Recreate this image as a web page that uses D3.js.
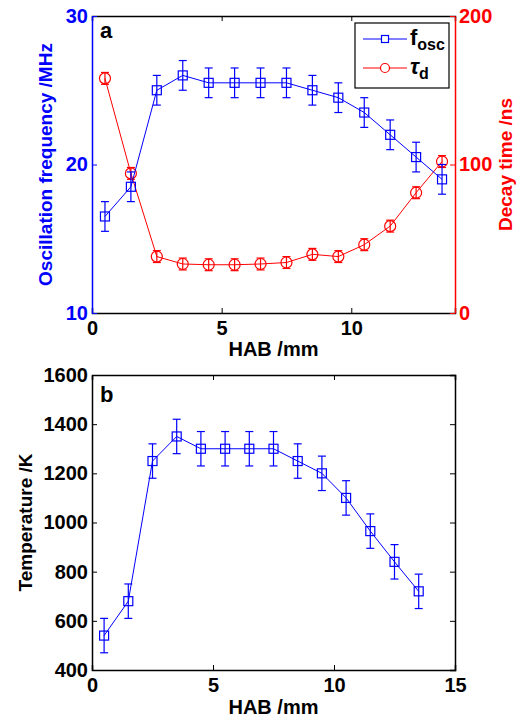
<!DOCTYPE html>
<html>
<head>
<meta charset="utf-8">
<script src="https://cdn.jsdelivr.net/npm/d3@7"></script>
<style>
  body { margin: 0; background: #fff; }
  text { font-family: "Liberation Sans", Arial, sans-serif; font-weight: bold; }
</style>
</head>
<body>
<svg id="chart" width="518" height="722"></svg>
<script>
(function (d3) {
    'use strict';

    // HAB positions (mm)
    var hab = [0.5, 1.5, 2.5, 3.5, 4.5, 5.5, 6.5, 7.5, 8.5, 9.5, 10.5, 11.5, 12.5, 13.5];

    // panel a
    var fosc = [16.5, 18.5, 25, 26, 25.5, 25.5, 25.5, 25.5, 25, 24.5, 23.5, 22, 20.5, 19];
    var foscErr = [1, 1, 1, 1, 1, 1, 1, 1, 1, 1, 1, 1, 1, 1];
    var decay = [158, 94, 38, 33, 32.5, 32.5, 33, 34, 39.5, 38, 46, 58.5, 81, 102];
    var decayErr = [4, 4, 4, 4, 4, 4, 4, 4, 4, 4, 4, 4, 4, 4];

    // panel b
    var temp = [540, 680, 1250, 1350, 1300, 1300, 1300, 1300, 1250, 1200, 1100, 965, 840, 720];
    var tempErr = [70, 70, 70, 70, 70, 70, 70, 70, 70, 70, 70, 70, 70, 70];

    var freqTicks = [10, 20, 30],
        decayTicks = [0, 100, 200],
        habTicksA = [0, 5, 10],
        habTicksB = [0, 5, 10, 15],
        tempTicks = [400, 600, 800, 1000, 1200, 1400, 1600];

    var BLUE = '#0000ff', RED = '#ff0000';
    var fmt = d3.format('d');

    var svg = d3.select('#chart');

    var left = 92, right = 455;

    function rows(y, e) {
        return hab.map(function (x, i) { return { x: x, y: y[i], e: e[i] }; });
    }

    function styleAxis(g, color) {
        g.select('.domain').attr('stroke', color).attr('stroke-width', 1.5);
        g.selectAll('.tick line').attr('stroke', color);
        g.selectAll('.tick text').attr('fill', color).style('font-size', '20px');
    }

    function series(g, x, y, data, color, shape) {
        g.append('path')
            .datum(data)
            .attr('fill', 'none')
            .attr('stroke', color)
            .attr('stroke-width', 1)
            .attr('d', d3.line().x(function (d) { return x(d.x); }).y(function (d) { return y(d.y); }));

        var eb = g.selectAll('.eb').data(data).enter().append('g');
        eb.append('line')
            .attr('x1', function (d) { return x(d.x); })
            .attr('x2', function (d) { return x(d.x); })
            .attr('y1', function (d) { return y(d.y - d.e); })
            .attr('y2', function (d) { return y(d.y + d.e); })
            .attr('stroke', color).attr('stroke-width', 1.2);
        [-1, 1].forEach(function (s) {
            eb.append('line')
                .attr('x1', function (d) { return x(d.x) - 4; })
                .attr('x2', function (d) { return x(d.x) + 4; })
                .attr('y1', function (d) { return y(d.y + s * d.e); })
                .attr('y2', function (d) { return y(d.y + s * d.e); })
                .attr('stroke', color).attr('stroke-width', 1.2);
        });

        if (shape === 'square') {
            g.selectAll('.mk').data(data).enter().append('rect')
                .attr('x', function (d) { return x(d.x) - 4.5; })
                .attr('y', function (d) { return y(d.y) - 4.5; })
                .attr('width', 9).attr('height', 9)
                .attr('fill', 'none').attr('stroke', color).attr('stroke-width', 1.2);
        } else {
            g.selectAll('.mk').data(data).enter().append('circle')
                .attr('cx', function (d) { return x(d.x); })
                .attr('cy', function (d) { return y(d.y); })
                .attr('r', 5.5)
                .attr('fill', 'none').attr('stroke', color).attr('stroke-width', 1.2);
        }
    }

    // ---------- panel a ----------
    var topA = 16, botA = 313;
    var xA = d3.scaleLinear().domain([0, 14]).range([left, right]);
    var yF = d3.scaleLinear().domain([10, 30]).range([botA, topA]);
    var yD = d3.scaleLinear().domain([0, 200]).range([botA, topA]);

    var ga = svg.append('g');

    ga.append('g').attr('transform', 'translate(0,' + topA + ')')
        .call(d3.axisBottom(xA).tickValues(habTicksA).tickSize(5).tickFormat(''))
        .call(styleAxis, '#000');
    ga.append('g').attr('transform', 'translate(0,' + botA + ')')
        .call(d3.axisTop(xA).tickValues(habTicksA).tickSize(5).tickFormat(''))
        .call(styleAxis, '#000');
    ga.append('g').attr('transform', 'translate(0,' + botA + ')')
        .call(d3.axisBottom(xA).tickValues(habTicksA).tickSize(0).tickPadding(8).tickFormat(fmt))
        .call(styleAxis, '#000')
        .select('.domain').remove();
    ga.append('g').attr('transform', 'translate(' + left + ',0)')
        .call(d3.axisLeft(yF).tickValues(freqTicks).tickSizeInner(-5).tickSizeOuter(0).tickPadding(4).tickFormat(fmt))
        .call(styleAxis, BLUE);
    ga.append('g').attr('transform', 'translate(' + right + ',0)')
        .call(d3.axisRight(yD).tickValues(decayTicks).tickSizeInner(-5).tickSizeOuter(0).tickPadding(4).tickFormat(fmt))
        .call(styleAxis, RED);

    series(ga, xA, yD, rows(decay, decayErr), RED, 'circle');
    series(ga, xA, yF, rows(fosc, foscErr), BLUE, 'square');

    ga.append('text').attr('x', 100).attr('y', 38).style('font-size', '22px').text('a');

    ga.append('text')
        .attr('transform', 'translate(52,' + ((topA + botA) / 2) + ') rotate(-90)')
        .attr('text-anchor', 'middle').attr('fill', BLUE).style('font-size', '19px')
        .text('Oscillation frequency /MHz');
    ga.append('text')
        .attr('transform', 'translate(512,' + ((topA + botA) / 2) + ') rotate(-90)')
        .attr('text-anchor', 'middle').attr('fill', RED).style('font-size', '19px')
        .text('Decay time /ns');
    ga.append('text').attr('x', (left + right) / 2).attr('y', 356)
        .attr('text-anchor', 'middle').style('font-size', '20px').text('HAB /mm');

    // legend
    var lg = ga.append('g');
    lg.append('rect').attr('x', 355).attr('y', 23).attr('width', 94).attr('height', 65)
        .attr('fill', '#fff').attr('stroke', '#000').attr('stroke-width', 1.2);
    var legendItems = [
        { color: BLUE, shape: 'square', y: 39, name: 'f', sub: 'osc', italic: false },
        { color: RED, shape: 'circle', y: 68, name: 'τ', sub: 'd', italic: true }
    ];
    legendItems.forEach(function (it) {
        lg.append('line').attr('x1', 363).attr('x2', 407).attr('y1', it.y).attr('y2', it.y)
            .attr('stroke', it.color).attr('stroke-width', 1);
        if (it.shape === 'square') {
            lg.append('rect').attr('x', 381.5).attr('y', it.y - 3.5).attr('width', 7).attr('height', 7)
                .attr('fill', '#fff').attr('stroke', it.color).attr('stroke-width', 1.2);
        } else {
            lg.append('circle').attr('cx', 385).attr('cy', it.y).attr('r', 4.5)
                .attr('fill', '#fff').attr('stroke', it.color).attr('stroke-width', 1.2);
        }
        var t = lg.append('text').attr('x', 410).attr('y', it.y + 6).style('font-size', '22px');
        t.append('tspan').style('font-style', it.italic ? 'italic' : 'normal').text(it.name);
        t.append('tspan').attr('dy', 5).style('font-size', '16px').text(it.sub);
    });

    // ---------- panel b ----------
    var topB = 375, botB = 670;
    var xB = d3.scaleLinear().domain([0, 15]).range([left, right]);
    var yT = d3.scaleLinear().domain([400, 1600]).range([botB, topB]);

    var gb = svg.append('g');
    gb.append('g').attr('transform', 'translate(0,' + topB + ')')
        .call(d3.axisBottom(xB).tickValues(habTicksB).tickSize(5).tickFormat(''))
        .call(styleAxis, '#000');
    gb.append('g').attr('transform', 'translate(0,' + botB + ')')
        .call(d3.axisTop(xB).tickValues(habTicksB).tickSize(5).tickFormat(''))
        .call(styleAxis, '#000');
    gb.append('g').attr('transform', 'translate(0,' + botB + ')')
        .call(d3.axisBottom(xB).tickValues(habTicksB).tickSize(0).tickPadding(8).tickFormat(fmt))
        .call(styleAxis, '#000')
        .select('.domain').remove();
    gb.append('g').attr('transform', 'translate(' + right + ',0)')
        .call(d3.axisLeft(yT).tickValues(tempTicks).tickSize(5).tickFormat(''))
        .call(styleAxis, '#000');
    gb.append('g').attr('transform', 'translate(' + left + ',0)')
        .call(d3.axisLeft(yT).tickValues(tempTicks).tickSizeInner(-5).tickSizeOuter(0).tickPadding(4).tickFormat(fmt))
        .call(styleAxis, '#000');

    series(gb, xB, yT, rows(temp, tempErr), BLUE, 'square');

    gb.append('text').attr('x', 100).attr('y', 402).style('font-size', '22px').text('b');
    gb.append('text')
        .attr('transform', 'translate(32,' + ((topB + botB) / 2) + ') rotate(-90)')
        .attr('text-anchor', 'middle').style('font-size', '19px').text('Temperature /K');
    gb.append('text').attr('x', (left + right) / 2).attr('y', 714)
        .attr('text-anchor', 'middle').style('font-size', '20px').text('HAB /mm');

})(d3);
</script>
</body>
</html>
